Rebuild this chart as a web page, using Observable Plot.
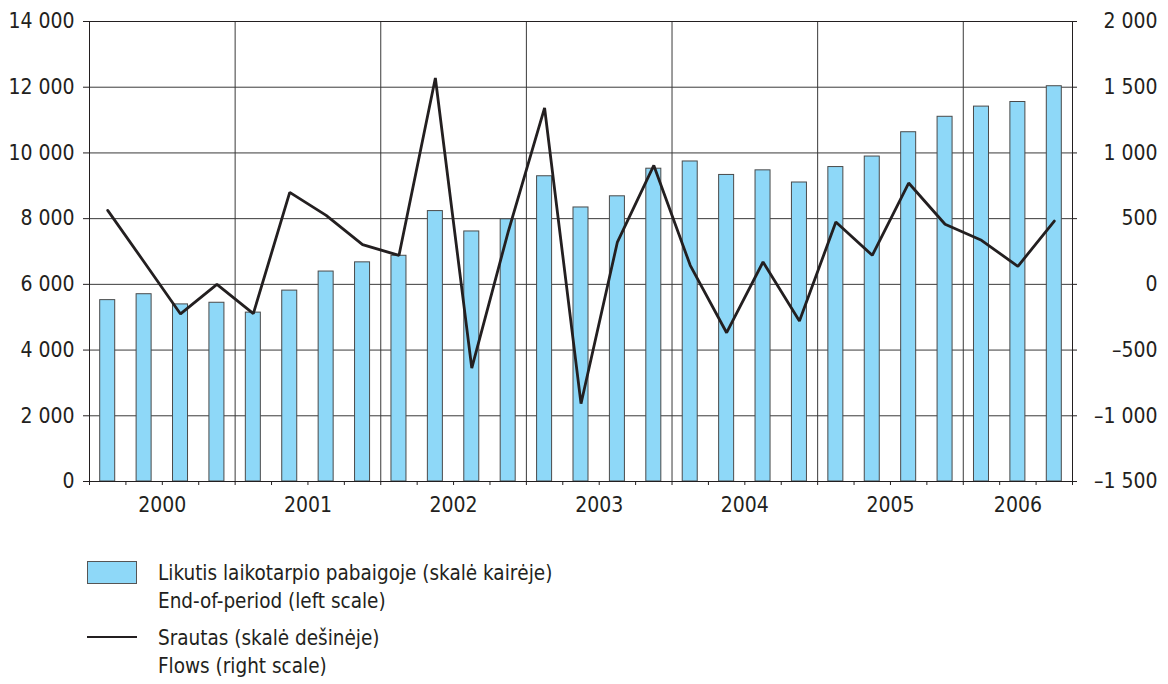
<!DOCTYPE html>
<html>
<head>
<meta charset="utf-8">
<script src="https://cdn.jsdelivr.net/npm/d3@7"></script>
<script src="https://cdn.jsdelivr.net/npm/@observablehq/plot@0.6"></script>
<style>
  body { margin: 0; background: #fff; font-family: "DejaVu Sans Condensed", "DejaVu Sans", sans-serif; font-stretch: condensed; color: #231f20; }
  #wrap { position: relative; width: 1168px; height: 684px; }
  #legend { position: absolute; left: 0; top: 0; width: 1168px; height: 684px; pointer-events: none; }
  .sw-bar { position: absolute; left: 87px; top: 561px; width: 48px; height: 21px; background: #8ED8F8; border: 1px solid #555; }
  .sw-line { position: absolute; left: 87px; top: 636px; width: 50px; height: 0; border-top: 2.5px solid #231f20; }
  .lt { position: absolute; left: 158px; font-size: 20.5px; line-height: 28px; white-space: nowrap; }
</style>
</head>
<body>
<div id="wrap">
  <div id="chart"></div>
  <div id="legend">
    <div class="sw-bar"></div>
    <div class="lt" style="top:559px">Likutis laikotarpio pabaigoje (skalė kairėje)<br>End-of-period (left scale)</div>
    <div class="sw-line"></div>
    <div class="lt" style="top:624px">Srautas (skalė dešinėje)<br>Flows (right scale)</div>
  </div>
</div>
<script>
// Years and number of quarters shown per year
const years = [2000, 2001, 2002, 2003, 2004, 2005, 2006];
const quartersPerYear = [4, 4, 4, 4, 4, 4, 3];

// End-of-period stock (left scale)
const stock = [5520, 5700, 5390, 5440, 5140, 5810, 6390, 6670,
               6870, 8230, 7610, 7980, 9290, 8340, 8680, 9520,
               9740, 9330, 9470, 9100, 9570, 9890, 10630, 11100,
               11410, 11550, 12030];

// Flows (right scale)
const flows = [563, 170, -225, 0, -223, 700, 525, 302,
               220, 1570, -637, 400, 1342, -908, 322, 905,
               145, -368, 170, -279, 474, 221, 771, 457,
               335, 137, 482];

const leftTicks = [0, 2000, 4000, 6000, 8000, 10000, 12000, 14000];
const rightTicks = [-1500, -1000, -500, 0, 500, 1000, 1500, 2000];

// right scale -> left scale mapping (right domain [-1500, 2000] over left [0, 14000])
const rMin = -1500, rMax = 2000, lMax = 14000;
const toLeft = v => (v - rMin) * lMax / (rMax - rMin);
const fromLeft = v => v * (rMax - rMin) / lMax + rMin;

const locale = d3.formatLocale({decimal: ",", thousands: "\u00a0", grouping: [3], currency: ["", ""], minus: "\u2013"});
const fmt = locale.format(",d");

const data = stock.map((s, i) => ({i, stock: s, flow: flows[i]}));

let start = 0;
const yearInfo = years.map((y, k) => {
  const o = {year: y, start, n: quartersPerYear[k]};
  start += quartersPerYear[k];
  return o;
});
const nQ = start;
const yearBounds = yearInfo.slice(1).map(d => d.start);

const fontFamily = '"DejaVu Sans Condensed", "DejaVu Sans", sans-serif';

const chart = Plot.plot({
  width: 1168,
  height: 530,
  marginTop: 21,
  marginBottom: 49,
  marginLeft: 89,
  marginRight: 96,
  style: {fontFamily, fontSize: "21px", fontStretch: "condensed", color: "#231f20", background: "#fff", overflow: "visible"},
  x: {domain: [0, nQ]},
  y: {domain: [0, lMax]},
  marks: [
    Plot.gridY(leftTicks, {stroke: "#3a3a3a", strokeOpacity: 1, strokeWidth: 1}),
    Plot.ruleX(yearBounds, {stroke: "#3a3a3a", strokeWidth: 1}),
    Plot.rectY(data, {
      x1: "i", x2: d => d.i + 1, y: "stock",
      insetLeft: 10.7, insetRight: 10.7,
      fill: "#8ED8F8", stroke: "#4a4a4a", strokeWidth: 1
    }),
    Plot.line(data, {x: d => d.i + 0.5, y: d => toLeft(d.flow), stroke: "#231f20", strokeWidth: 2.8, strokeLinejoin: "miter"}),
    Plot.frame({stroke: "#231f20", strokeWidth: 1}),
    Plot.axisY({ticks: leftTicks, tickFormat: fmt, tickSize: 6, tickPadding: 9, fontSize: 21, label: null}),
    Plot.axisY({anchor: "right", ticks: rightTicks.map(toLeft), tickFormat: v => fmt(Math.round(fromLeft(v))),
                tickSize: 4, tickPadding: 81, textAnchor: "end", fontSize: 21, label: null}),
    Plot.axisX({ticks: d3.range(0, nQ + 1), tickFormat: () => "", tickSize: 4, label: null}),
    Plot.axisX({ticks: yearInfo.map(d => d.start + d.n / 2), tickFormat: v => String(yearInfo.find(d => d.start + d.n / 2 === v).year),
                tickSize: 0, tickPadding: 16, fontSize: 21, label: null})
  ]
});
document.getElementById("chart").appendChild(chart);
</script>
</body>
</html>
